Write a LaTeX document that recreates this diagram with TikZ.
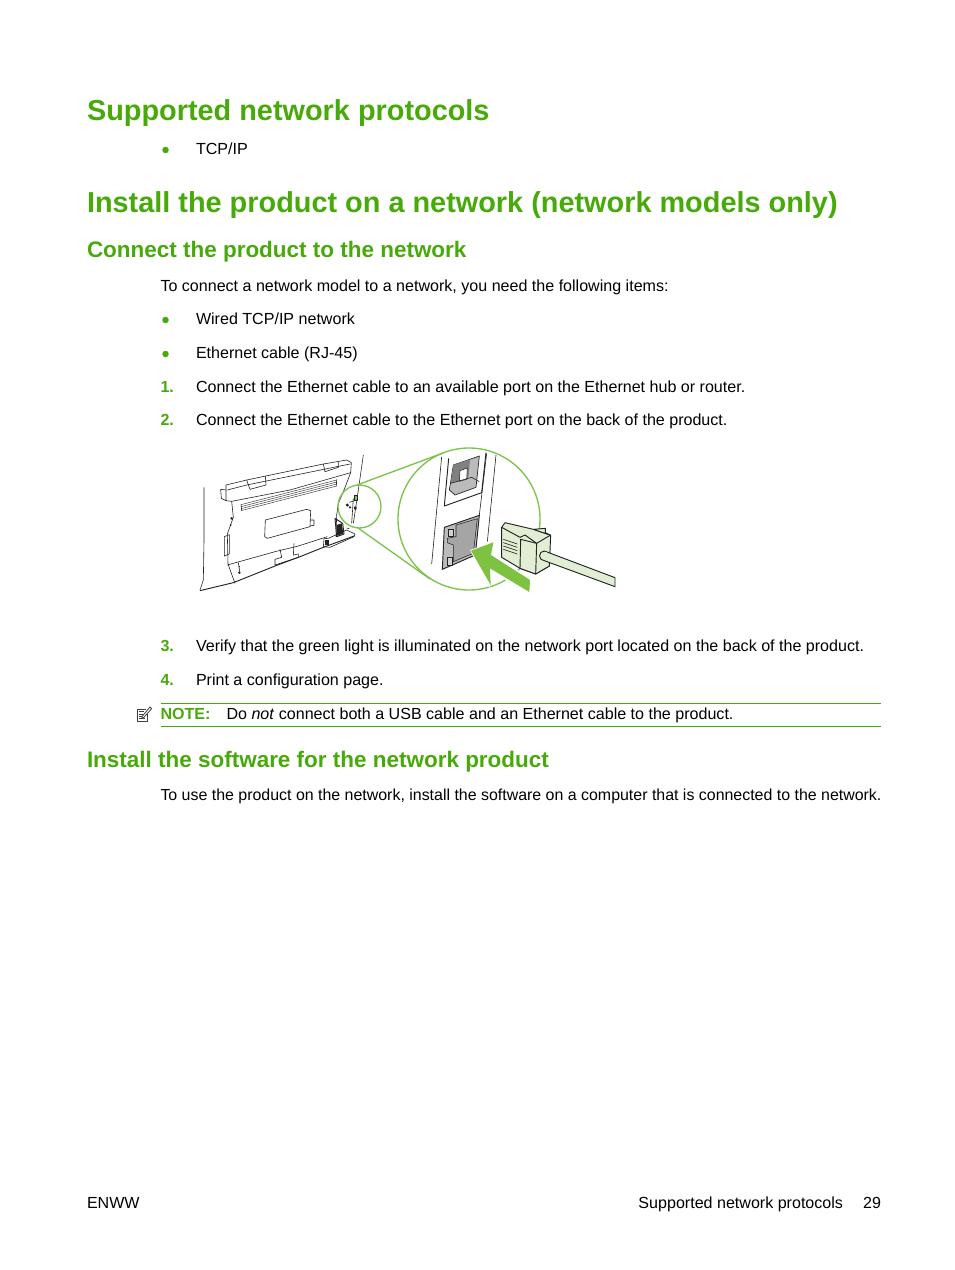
\documentclass[tikz,border=0pt]{standalone}
\usepackage{fontspec}
\setmainfont{Liberation Sans}
\definecolor{hpgreen}{RGB}{72,170,10}
\definecolor{lens}{RGB}{125,195,75}
\definecolor{arrowgreen}{RGB}{125,195,65}
\definecolor{plug}{RGB}{226,238,212}
\definecolor{portgray}{RGB}{165,165,165}
\definecolor{inkline}{RGB}{35,35,35}
\newcommand{\bodysize}{\fontsize{12.05pt}{14pt}\selectfont}
\tikzset{
 txt/.style={anchor=base west,inner sep=0pt,outer sep=0pt,text=black,font=\bodysize},
 txtr/.style={anchor=base east,inner sep=0pt,outer sep=0pt,text=black,font=\bodysize},
 hone/.style={anchor=base west,inner sep=0pt,outer sep=0pt,text=hpgreen,font=\fontsize{21.65pt}{26pt}\selectfont\bfseries},
 htwo/.style={anchor=base west,inner sep=0pt,outer sep=0pt,text=hpgreen,font=\fontsize{16.85pt}{20pt}\selectfont\bfseries},
 num/.style={anchor=base west,inner sep=0pt,outer sep=0pt,text=hpgreen,font=\bodysize\bfseries},
 dot/.style={circle,fill=hpgreen,inner sep=0pt,minimum size=6.5*0.75pt},
 rulegreen/.style={draw=hpgreen,line width=0.7pt},
 ink/.style={draw=inkline,line width=0.45pt,line join=round},
 thick ink/.style={draw=inkline,line width=0.7pt,line join=round},
 lensline/.style={draw=lens,line width=1pt},
}
\begin{document}
\begin{tikzpicture}[x=0.75pt,y=-0.75pt]
\useasboundingbox[fill=white] (0,0) rectangle (954,1270);

\node[hone] (t1) at (87,120.5) {Supported network protocols};
\node[dot] (d0) at (165.5,150) {};
\node[txt] (t2) at (196,154) {TCP/IP};
\node[hone] (t3) at (87,212.5) {Install the product on a network (network models only)};
\node[htwo] (t4) at (87,257) {Connect the product to the network};
\node[txt] (t5) at (160.5,291) {To connect a network model to a network, you need the following items:};
\node[dot] (d1) at (165.5,320) {};
\node[txt] (t6) at (196,324) {Wired TCP/IP network};
\node[dot] (d2) at (165.5,354) {};
\node[txt] (t7) at (196,358) {Ethernet cable (RJ-45)};
\node[num] (n1) at (160.5,392) {1.};
\node[txt] (t8) at (196,392) {Connect the Ethernet cable to an available port on the Ethernet hub or router.};
\node[num] (n2) at (160.5,425) {2.};
\node[txt] (t9) at (196,425) {Connect the Ethernet cable to the Ethernet port on the back of the product.};
\node[num] (n3) at (160.5,651) {3.};
\node[txt] (t10) at (196,651) {Verify that the green light is illuminated on the network port located on the back of the product.};
\node[num] (n4) at (160.5,685) {4.};
\node[txt] (t11) at (196,685) {Print a configuration page.};
\node[num] (note) at (160.5,719) {NOTE:};
\node[txt] (t12) at (226.5,719) {Do \textit{not} connect both a USB cable and an Ethernet cable to the product.};
\draw[rulegreen] (160.5,703.5) -- (881,703.5);
\draw[rulegreen] (160.5,726.5) -- (881,726.5);
\node[htwo] (t13) at (87,767) {Install the software for the network product};
\node[txt,font=\fontsize{11.95pt}{14pt}\selectfont] (t14) at (160.5,800) {To use the product on the network, install the software on a computer that is connected to the network.};
\node[txt] (f1) at (87,1208) {ENWW};
\node[txtr] (f2) at (843,1208) {Supported network protocols};
\node[txtr] (f3) at (881,1208) {29};

% note icon
\begin{scope}[shift={(125,695)},x=0.25pt,y=-0.25pt]
\draw[draw=black!75,line width=0.6pt] (62,42)--(36,42)--(36,78)--(66,78)--(66,52);
\draw[draw=black!75,line width=0.4pt] (41,50)--(58,50) (41,58)--(56,58) (41,65)--(52,65) (41,71)--(60,71);
\filldraw[draw=black!75,fill=white,line width=0.6pt] (50,66)--(75,36)--(80,41)--(54,70)--cycle;
\end{scope}

% printer
\begin{scope}[shift={(190,440)},x=0.25pt,y=-0.25pt]
\draw[ink] (42,142)--(42,300)--(40,420)--(30,450);
\draw[thick ink] (30,452)--(130,428)--(255,378)--(330,350)--(400,322)--(492,288);
\draw[ink] (520,45)--(505,150)--(490,250);
% top housing
\draw[ink] (108,182)--(108,135)--(170,120)--(400,72)--(470,60)--(484,68)--(482,98)--(300,150)--(125,184)--(108,182);
\draw[ink] (112,150)--(170,135)--(480,72);
\draw[ink] (170,120)--(180,148)--(228,135)--(226,108);
\draw[ink] (400,72)--(405,95)--(445,82)--(445,66);
\draw[ink] (92,148)--(108,150) (92,148)--(94,175)--(108,182);
% vents
\foreach \d in {0,6,12,18}{\draw[draw=inkline,line width=0.3pt] (153,{194+\d})--(440,{120+\d});}
\draw[ink] (153,194)--(155,212) (440,118)--(439,138);
% body
\draw[ink] (125,184)--(130,232)--(112,282)--(114,372)--(135,430);
\draw[ink] (482,98)--(462,150)--(445,190)--(440,225)--(438,290);
% panel
\draw[ink] (226,240)--(350,208)--(362,212)--(360,260)--(232,295)--(224,290)--cycle;
\draw[ink] (362,240)--(372,240)--(372,256)--(360,258);
% lower
\draw[ink] (112,375)--(255,335)--(325,318)--(412,290);
\draw[ink] (103,290)--(118,284)--(118,342)--(103,348)--cycle;
\draw[ink] (270,328)--(275,352)--(255,358)--(255,375)--(325,352)--(325,342)--(310,345)--(312,310);
\draw[ink] (145,368)--(150,400);
\fill[inkline] (148,398) circle (4) (148,380) circle (2);
\fill[inkline] (122,255) circle (3) (125,235) circle (4);
% right block
\draw[ink] (415,295)--(470,270)--(495,282)--(492,290)--(420,322)--(400,320)--(402,296)--cycle;
\draw[thick ink] (435,235)--(440,290)--(462,282)--(458,250)--cycle;
\fill[inkline] (440,255)--(455,250)--(460,280)--(442,288)--cycle;
\fill[inkline] (406,300) rectangle (416,316);
\fill[inkline] (472,195) circle (5) (480,202) circle (4) (492,200) rectangle (500,208);
\draw[ink] (478,187)--(492,183);
\filldraw[fill=lens,draw=inkline,line width=0.3pt] (492,165) rectangle (502,180);
\draw[ink] (470,264)--(478,266) (490,176)--(485,250);
\end{scope}

% lens
\draw[lensline] (359.5,506.5) circle [radius=21.5];
\coordinate (lt1) at (357,485);
\coordinate (lt2) at (443,453);
\coordinate (lb1) at (358,528);
\coordinate (lb2) at (430,579);
\draw[lensline] (lt1) -- (lt2);
\draw[lensline] (lb1) -- (lb2);
\draw[lensline] (469,519) circle [radius=71];

% zoomed port
\begin{scope}[shift={(390,440)},x=0.25pt,y=-0.25pt]
\draw[ink] (155,50)--(125,372);
\draw[ink] (290,40)--(268,225);
\draw[ink] (318,45)--(292,305);
\draw[thick ink] (176,55)--(163,198)--(275,158)--(288,38);
\filldraw[draw=inkline,line width=0.5pt,fill=portgray!75] (190,75)--(268,48)--(258,142)--(195,165)--(178,150)--cycle;
\fill[black!50] (190,75)--(240,58)--(235,115)--(182,130)--cycle;
\filldraw[fill=white,draw=inkline,line width=0.4pt] (210,92)--(232,84)--(230,118)--(208,124)--cycle;
\draw[ink] (182,130)--(245,112)--(268,125);
% RJ port
\filldraw[draw=inkline,line width=0.7pt,fill=portgray!75] (163,262)--(268,226)--(256,345)--(157,388)--cycle;
\filldraw[draw=inkline,line width=0.4pt,fill=portgray] (198,255)--(262,236)--(250,340)--(190,365)--(190,315)--(172,308)--(172,295)--(198,290)--cycle;
\draw[draw=inkline,line width=0.4pt,fill=portgray!50] (175,268) rectangle (190,290);
\draw[draw=inkline,line width=0.4pt,fill=portgray!50] (172,352) rectangle (188,376);
% arrow
\fill[white] (240,330)--(310,305)--(305,345)--(425,415)--(420,460)--(295,392)--(300,445)--cycle;
\fill[arrowgreen] (243,332)--(310,307)--(303,345)--(420,420)--(418,456)--(300,385)--(302,435)--cycle;
% plug
\filldraw[thick ink,fill=plug] (335,262)--(345,248)--(430,268)--(480,285)--(478,378)--(437,402)--(390,385)--(335,352)--cycle;
\filldraw[thick ink,fill=plug] (392,298)--(440,310)--(482,285)--(478,378)--(437,402)--(390,385)--cycle;
\draw[thick ink] (440,310)--(437,402);
\draw[thick ink] (335,262)--(390,292)--(405,285)--(440,310);
\filldraw[thick ink,fill=plug] (430,268)--(466,265)--(466,278)--(480,285)--cycle;
\draw[draw=inkline,line width=0.5pt] (340,308)--(382,322) (340,318)--(382,332) (340,328)--(382,342) (340,298)--(382,312);
% cable over the plug face
\filldraw[draw=inkline,line width=0.7pt,fill=plug] (463,333)--(675,413)--(675,440)--(463,362) arc [start angle=90,end angle=270,radius=14.5] -- cycle;
\fill[plug] (463,335) rectangle (470,360);
\end{scope}
\end{tikzpicture}
\end{document}
